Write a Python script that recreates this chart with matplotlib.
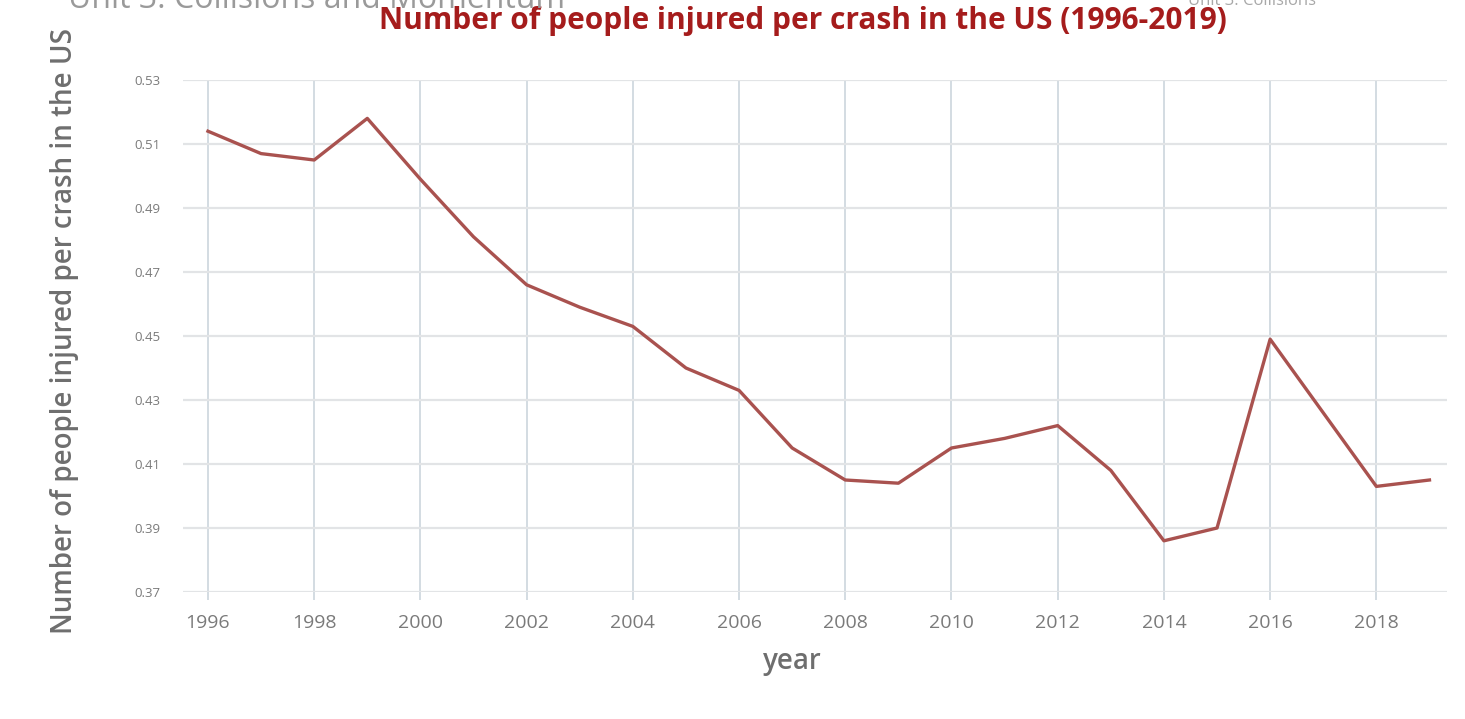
import matplotlib
matplotlib.use("Agg")
import matplotlib.pyplot as plt
import numpy as np

years = [1996, 1997, 1998, 1999, 2000, 2001, 2002, 2003, 2004, 2005, 2006, 2007,
         2008, 2009, 2010, 2011, 2012, 2013, 2014, 2015, 2016, 2017, 2018, 2019]
injured_per_crash = [0.514, 0.507, 0.505, 0.518, 0.499, 0.481, 0.466, 0.459, 0.453, 0.440,
                     0.433, 0.415, 0.405, 0.404, 0.415, 0.418, 0.422, 0.408, 0.386, 0.390,
                     0.449, 0.426, 0.403, 0.405]
x_ticks = [1996, 1998, 2000, 2002, 2004, 2006, 2008, 2010, 2012, 2014, 2016, 2018]
y_ticks = [0.37, 0.39, 0.41, 0.43, 0.45, 0.47, 0.49, 0.51, 0.53]

title = "Number of people injured per crash in the US (1996-2019)"
ylabel = "Number of people injured per crash in the US"
xlabel = "year"

fig = plt.figure(figsize=(14.65, 7.19), dpi=100)
ax = fig.add_axes([183/1465, 1-592/719, (1447-183)/1465, (592-80)/719])

ax.plot(years, injured_per_crash, color="#a9524f", lw=2.4, solid_joinstyle="round", zorder=3)

ax.set_xlim(1995.53, 2019.33)
ax.set_ylim(0.37, 0.53)
ax.set_xticks(x_ticks)
ax.set_yticks(y_ticks)
ax.set_xticklabels([str(t) for t in x_ticks], fontsize=14, color="#7a7a7a", family="Open Sans")
ax.set_yticklabels([f"{t:.2f}" for t in y_ticks], fontsize=9.5, color="#7a7a7a", family="Open Sans")

for s in ax.spines.values():
    s.set_visible(False)
ax.grid(axis="y", color="#e2e4e6", lw=1.6, zorder=0)
ax.grid(axis="x", color="#d3dce2", lw=1.4, zorder=0)
ax.tick_params(axis="x", length=6, color="#d3dce2", width=1.4, pad=10)
ax.tick_params(axis="y", length=0, pad=16)

ax.set_xlabel(xlabel, fontsize=20, color="#6e6e6e", family="Open Sans", fontweight="semibold")
ax.xaxis.set_label_coords((792-183)/(1447-183), -(662-592)/512, transform=ax.transAxes)
ax.xaxis.label.set_va("center")
fig.text(65/1465, 1-331/719, ylabel, rotation=90, ha="center", va="center",
         fontsize=20, color="#6e6e6e", family="Open Sans", fontweight="semibold")

fig.text(803/1465, 1-29/719, title, ha="center", va="baseline", fontsize=21.5,
         color="#a51c1c", family="Open Sans", fontweight="bold")

fig.text(68/1465, 1-8/719, "Unit 3: Collisions and Momentum", ha="left", va="baseline",
         fontsize=23, color="#9a9a9a", family="Open Sans")
fig.text(1188/1465, 1-5/719, "Unit 3: Collisions", ha="left", va="baseline",
         fontsize=12, color="#a8a8a8", family="Open Sans")

fig.savefig("out.png", dpi=100, facecolor="white")
